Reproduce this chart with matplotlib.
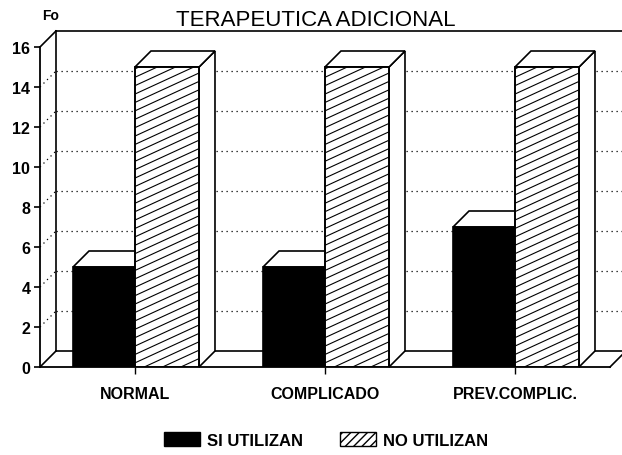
import matplotlib
matplotlib.use('Agg')
import matplotlib.pyplot as plt
from matplotlib.patches import Polygon, Rectangle, Patch
from matplotlib.collections import LineCollection
import numpy as np

plt.rcParams['font.family'] = ['Liberation Sans', 'DejaVu Sans']

# data
categories = ['NORMAL', 'COMPLICADO', 'PREV.COMPLIC.']
si_utilizan = [5, 5, 7]
no_utilizan = [15, 15, 15]
y_ticks = [0, 2, 4, 6, 8, 10, 12, 14, 16]
legend_labels = ['SI UTILIZAN', 'NO UTILIZAN']
title = 'TERAPEUTICA ADICIONAL'
y_label = 'Fo'

# geometry of the fake 3D box
xmin, xmax = -0.5, 2.5
ymax = 16
dx, dy = 0.084, 0.8      # depth offset (data units)
wb, wh = 0.326, 0.337    # bar widths
hatch_slope = 4.37       # rise per x unit, data units
hatch_step = 0.42

fig = plt.figure(figsize=(6.22, 4.56), dpi=100)
ax = fig.add_axes([40 / 622, 88 / 456, 570 / 622, 320 / 456])
ax.set_xlim(xmin, xmax)
ax.set_ylim(0, ymax)
for s in ['top', 'right']:
    ax.spines[s].set_visible(False)
ax.spines['left'].set_linewidth(1.3)
ax.spines['bottom'].set_linewidth(1.3)
ax.patch.set_visible(False)

ax.set_yticks(y_ticks)
ax.set_yticklabels([str(v) for v in y_ticks], fontsize=11.5, fontweight='bold')
ax.tick_params(axis='y', direction='out', length=4, width=1.2, pad=3)
ax.set_xticks(range(len(categories)))
ax.set_xticklabels(categories, fontsize=11.5, fontweight='bold')
ax.tick_params(axis='x', direction='out', length=5, width=1.0, pad=9)

lw = 1.2
far = xmax + dx + 0.2  # back lines run off the right edge of the picture

# back wall and floor
ax.plot([xmin + dx, xmin + dx], [dy, ymax + dy], color='black', lw=lw, clip_on=False, zorder=2)
ax.plot([xmin + dx, far], [ymax + dy, ymax + dy], color='black', lw=lw, clip_on=False, zorder=2)
ax.plot([xmin, xmin + dx], [ymax, ymax + dy], color='black', lw=lw, clip_on=False, zorder=2)
ax.plot([xmin, xmin + dx], [0, dy], color='black', lw=lw, clip_on=False, zorder=2)
ax.plot([xmin + dx, far], [dy, dy], color='black', lw=lw, clip_on=False, zorder=2)
ax.plot([xmax, xmax + dx], [0, dy], color='black', lw=lw, clip_on=False, zorder=2)

# dotted grid on side wall and back wall
for v in y_ticks[1:-1]:
    ax.plot([xmin, xmin + dx], [v, v + dy], color='black', lw=0.9, ls=(0, (1, 3)), clip_on=False, zorder=1)
    ax.plot([xmin + dx, far], [v + dy, v + dy], color='black', lw=0.9, ls=(0, (1, 3)), clip_on=False, zorder=1)

for i in range(len(categories)):
    hs = si_utilizan[i]
    hn = no_utilizan[i]

    # black bar: top face then front
    x0 = i - wb
    ax.add_patch(Polygon([(x0, hs), (x0 + dx, hs + dy), (i + dx, hs + dy), (i, hs)],
                         closed=True, facecolor='white', edgecolor='black', lw=lw, zorder=3))
    ax.add_patch(Rectangle((x0, 0), wb, hs, facecolor='black', edgecolor='black', lw=lw, zorder=4))

    # hatched bar: side, top, front
    x1 = i + wh
    ax.add_patch(Polygon([(x1, 0), (x1 + dx, dy), (x1 + dx, hn + dy), (x1, hn)],
                         closed=True, facecolor='white', edgecolor='black', lw=lw, zorder=5, clip_on=False))
    ax.add_patch(Polygon([(i, hn), (i + dx, hn + dy), (x1 + dx, hn + dy), (x1, hn)],
                         closed=True, facecolor='white', edgecolor='black', lw=lw, zorder=5, clip_on=False))
    front = Rectangle((i, 0), wh, hn, facecolor='white', edgecolor='black', lw=lw, zorder=6)
    ax.add_patch(front)
    segs = []
    for c in np.arange(-hatch_slope * wh, hn, hatch_step):
        segs.append([(i, c), (x1, c + hatch_slope * wh)])
    lc = LineCollection(segs, colors='black', linewidths=0.8, zorder=6)
    ax.add_collection(lc)
    lc.set_clip_path(front)
    ax.add_patch(Rectangle((i, 0), wh, hn, facecolor='none', edgecolor='black', lw=lw, zorder=7))

# texts
fig.text(316 / 622, 1 - 20 / 456, title, ha='center', va='center', fontsize=16)
fig.text(42 / 622, 1 - 16 / 456, y_label, ha='left', va='center', fontsize=10, fontweight='bold')

handles = [Patch(facecolor='black', edgecolor='black'),
           Patch(facecolor='white', edgecolor='black', hatch='////')]
fig.legend(handles, legend_labels, loc='center', bbox_to_anchor=(326 / 622, 15 / 456),
           ncol=2, frameon=False, handlelength=2.2, handleheight=0.9, columnspacing=2.2,
           handletextpad=0.4, prop={'size': 12, 'weight': 'bold'})

fig.savefig('out.png', dpi=100)
